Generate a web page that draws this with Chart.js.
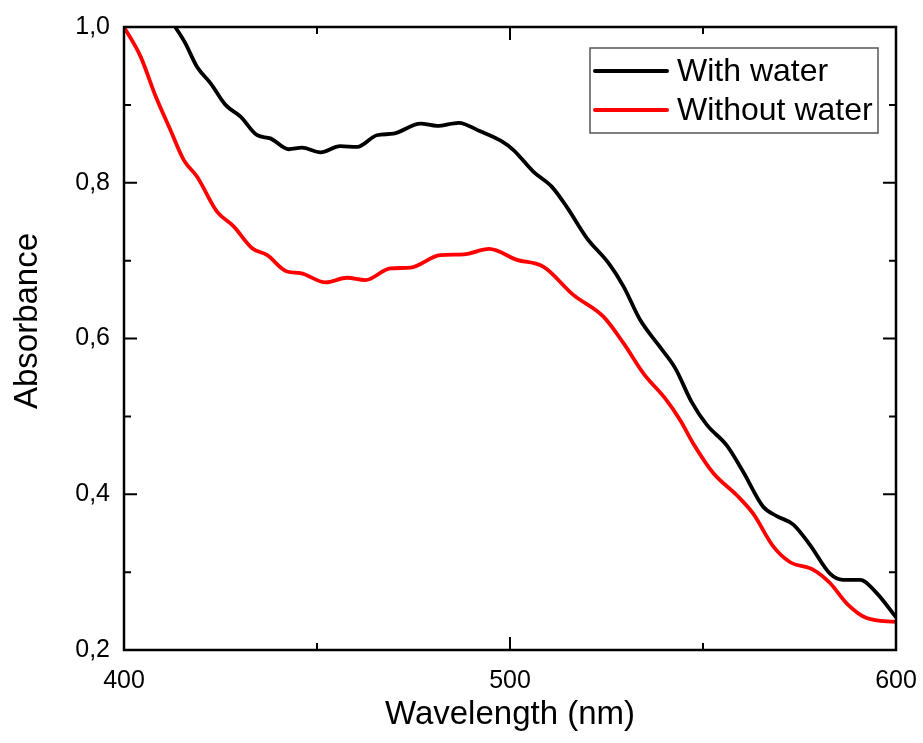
<!DOCTYPE html>
<html><head><meta charset="utf-8">
<script src="https://cdn.jsdelivr.net/npm/chart.js@4.4.0/dist/chart.umd.min.js"></script>
<style>html,body{margin:0;padding:0;background:#fff}#wrap{width:923px;height:743px}</style>
</head><body><div id="wrap"><canvas id="c" width="923" height="743"></canvas></div>
<script>
const seriesLabels = ['With water', 'Without water'];
const seriesColors = ['#000000', '#ff0000'];

const wavelengthWith = [413.3,415.9,418.9,422.4,426.3,430.2,434.5,437.9,442.7,446.1,450.9,456.0,460.4,465.5,469.8,476.8,481.1,486.7,492.3,497.9,500.9,506.1,510.8,514.7,519.9,525.5,529.4,533.7,538.4,542.8,547.0,551.0,556.1,560.4,565.6,569.1,573.4,577.7,582.9,586.3,590.7,595.0,600.0];
const absorbanceWith = [1.000,0.979,0.949,0.928,0.900,0.885,0.861,0.857,0.843,0.845,0.839,0.847,0.846,0.861,0.863,0.876,0.873,0.877,0.866,0.853,0.842,0.814,0.795,0.769,0.729,0.697,0.667,0.624,0.592,0.562,0.519,0.489,0.463,0.429,0.384,0.372,0.361,0.335,0.298,0.290,0.290,0.273,0.242];

const wavelengthWithout = [400.0,404.3,408.2,412.0,415.5,418.9,424.1,428.4,433.2,437.1,442.2,445.7,452.2,457.8,462.5,469.0,474.2,481.9,488.0,494.6,501.8,508.7,516.4,524.2,529.4,534.6,540.2,544.1,547.5,552.7,558.7,563.0,568.2,572.5,578.6,582.9,587.2,592.4,600.0];
const absorbanceWithout = [1.000,0.962,0.911,0.868,0.829,0.808,0.763,0.744,0.716,0.707,0.686,0.684,0.672,0.678,0.675,0.690,0.691,0.707,0.708,0.715,0.701,0.692,0.656,0.628,0.594,0.555,0.523,0.495,0.465,0.427,0.399,0.375,0.333,0.313,0.303,0.286,0.260,0.241,0.236];

const xMajorTicks = [400, 500, 600];
const xMinorTicks = [450, 550];
const yMajorTicks = [0.2, 0.4, 0.6, 0.8, 1.0];
const yMinorTicks = [0.3, 0.5, 0.7, 0.9];

const FONT = '"Liberation Sans", Arial, sans-serif';

function toPoints(xs, ys) { return xs.map((x, i) => ({x: x, y: ys[i]})); }

const framePlugin = {
  id: 'frame',
  afterDraw(chart) {
    const ctx = chart.ctx, a = chart.chartArea;
    const xs = chart.scales.x, ys = chart.scales.y;
    ctx.save();
    ctx.strokeStyle = '#000';
    ctx.lineWidth = 2.5;
    ctx.strokeRect(a.left, a.top, a.right - a.left, a.bottom - a.top);
    ctx.lineWidth = 2;
    const tick = (vals, len) => {
      vals.forEach(v => {
        const px = xs.getPixelForValue(v);
        ctx.beginPath();
        ctx.moveTo(px, a.bottom); ctx.lineTo(px, a.bottom - len);
        ctx.moveTo(px, a.top); ctx.lineTo(px, a.top + len);
        ctx.stroke();
      });
    };
    const ytick = (vals, len) => {
      vals.forEach(v => {
        const py = ys.getPixelForValue(v);
        ctx.beginPath();
        ctx.moveTo(a.left, py); ctx.lineTo(a.left + len, py);
        ctx.moveTo(a.right, py); ctx.lineTo(a.right - len, py);
        ctx.stroke();
      });
    };
    tick(xMajorTicks, 13); tick(xMinorTicks, 7);
    ytick(yMajorTicks, 13); ytick(yMinorTicks, 7);

    // y-axis title
    ctx.save();
    ctx.translate(28, 321);
    ctx.rotate(-Math.PI / 2);
    ctx.font = '33px ' + FONT;
    ctx.fillStyle = '#000';
    ctx.textAlign = 'center';
    ctx.textBaseline = 'middle';
    ctx.fillText('Absorbance', 0, 0);
    ctx.restore();

    // legend
    const lx = 590, ly = 48, lw = 288, lh = 85;
    ctx.fillStyle = '#fff';
    ctx.fillRect(lx, ly, lw, lh);
    ctx.strokeStyle = '#555';
    ctx.lineWidth = 1.5;
    ctx.strokeRect(lx, ly, lw, lh);
    ctx.font = '32px ' + FONT;
    ctx.textAlign = 'left';
    ctx.textBaseline = 'middle';
    const rows = [71, 110];
    chart.data.datasets.forEach((ds, i) => {
      ctx.strokeStyle = ds.borderColor;
      ctx.lineWidth = 4;
      ctx.lineCap = 'round';
      ctx.beginPath();
      ctx.moveTo(595, rows[i]); ctx.lineTo(667, rows[i]);
      ctx.stroke();
      ctx.fillStyle = '#000';
      ctx.fillText(ds.label, 677, rows[i] + 1);
    });
    ctx.restore();
  }
};

new Chart(document.getElementById('c'), {
  type: 'line',
  data: {
    datasets: [
      {label: seriesLabels[0], data: toPoints(wavelengthWith, absorbanceWith), borderColor: seriesColors[0], borderWidth: 3.8, pointRadius: 0, cubicInterpolationMode: 'monotone', fill: false},
      {label: seriesLabels[1], data: toPoints(wavelengthWithout, absorbanceWithout), borderColor: seriesColors[1], borderWidth: 3.8, pointRadius: 0, cubicInterpolationMode: 'monotone', fill: false}
    ]
  },
  options: {
    responsive: false,
    animation: false,
    devicePixelRatio: 1,
    layout: {padding: {top: 27, right: 27, left: 0, bottom: 0}},
    plugins: {legend: {display: false}, tooltip: {enabled: false}},
    scales: {
      x: {
        type: 'linear', min: 400, max: 600,
        afterBuildTicks: s => { s.ticks = xMajorTicks.map(v => ({value: v})); },
        ticks: {color: '#000', font: {family: FONT, size: 25}, padding: 8, maxRotation: 0, callback: v => String(v)},
        grid: {display: false},
        border: {display: false},
        title: {display: true, text: 'Wavelength (nm)', color: '#000', font: {family: FONT, size: 33}, padding: {top: 0, bottom: 8}},
        afterFit: s => { s.height = 93; s.paddingLeft = 0; s.paddingRight = 0; }
      },
      y: {
        type: 'linear', min: 0.2, max: 1.0,
        afterBuildTicks: s => { s.ticks = yMajorTicks.map(v => ({value: v})); },
        ticks: {color: '#000', font: {family: FONT, size: 25}, padding: 6, callback: v => v.toFixed(1).replace('.', ',')},
        grid: {display: false},
        border: {display: false},
        afterFit: s => { s.width = 124; s.paddingTop = 0; s.paddingBottom = 0; }
      }
    }
  },
  plugins: [framePlugin]
});
</script>
</body></html>
